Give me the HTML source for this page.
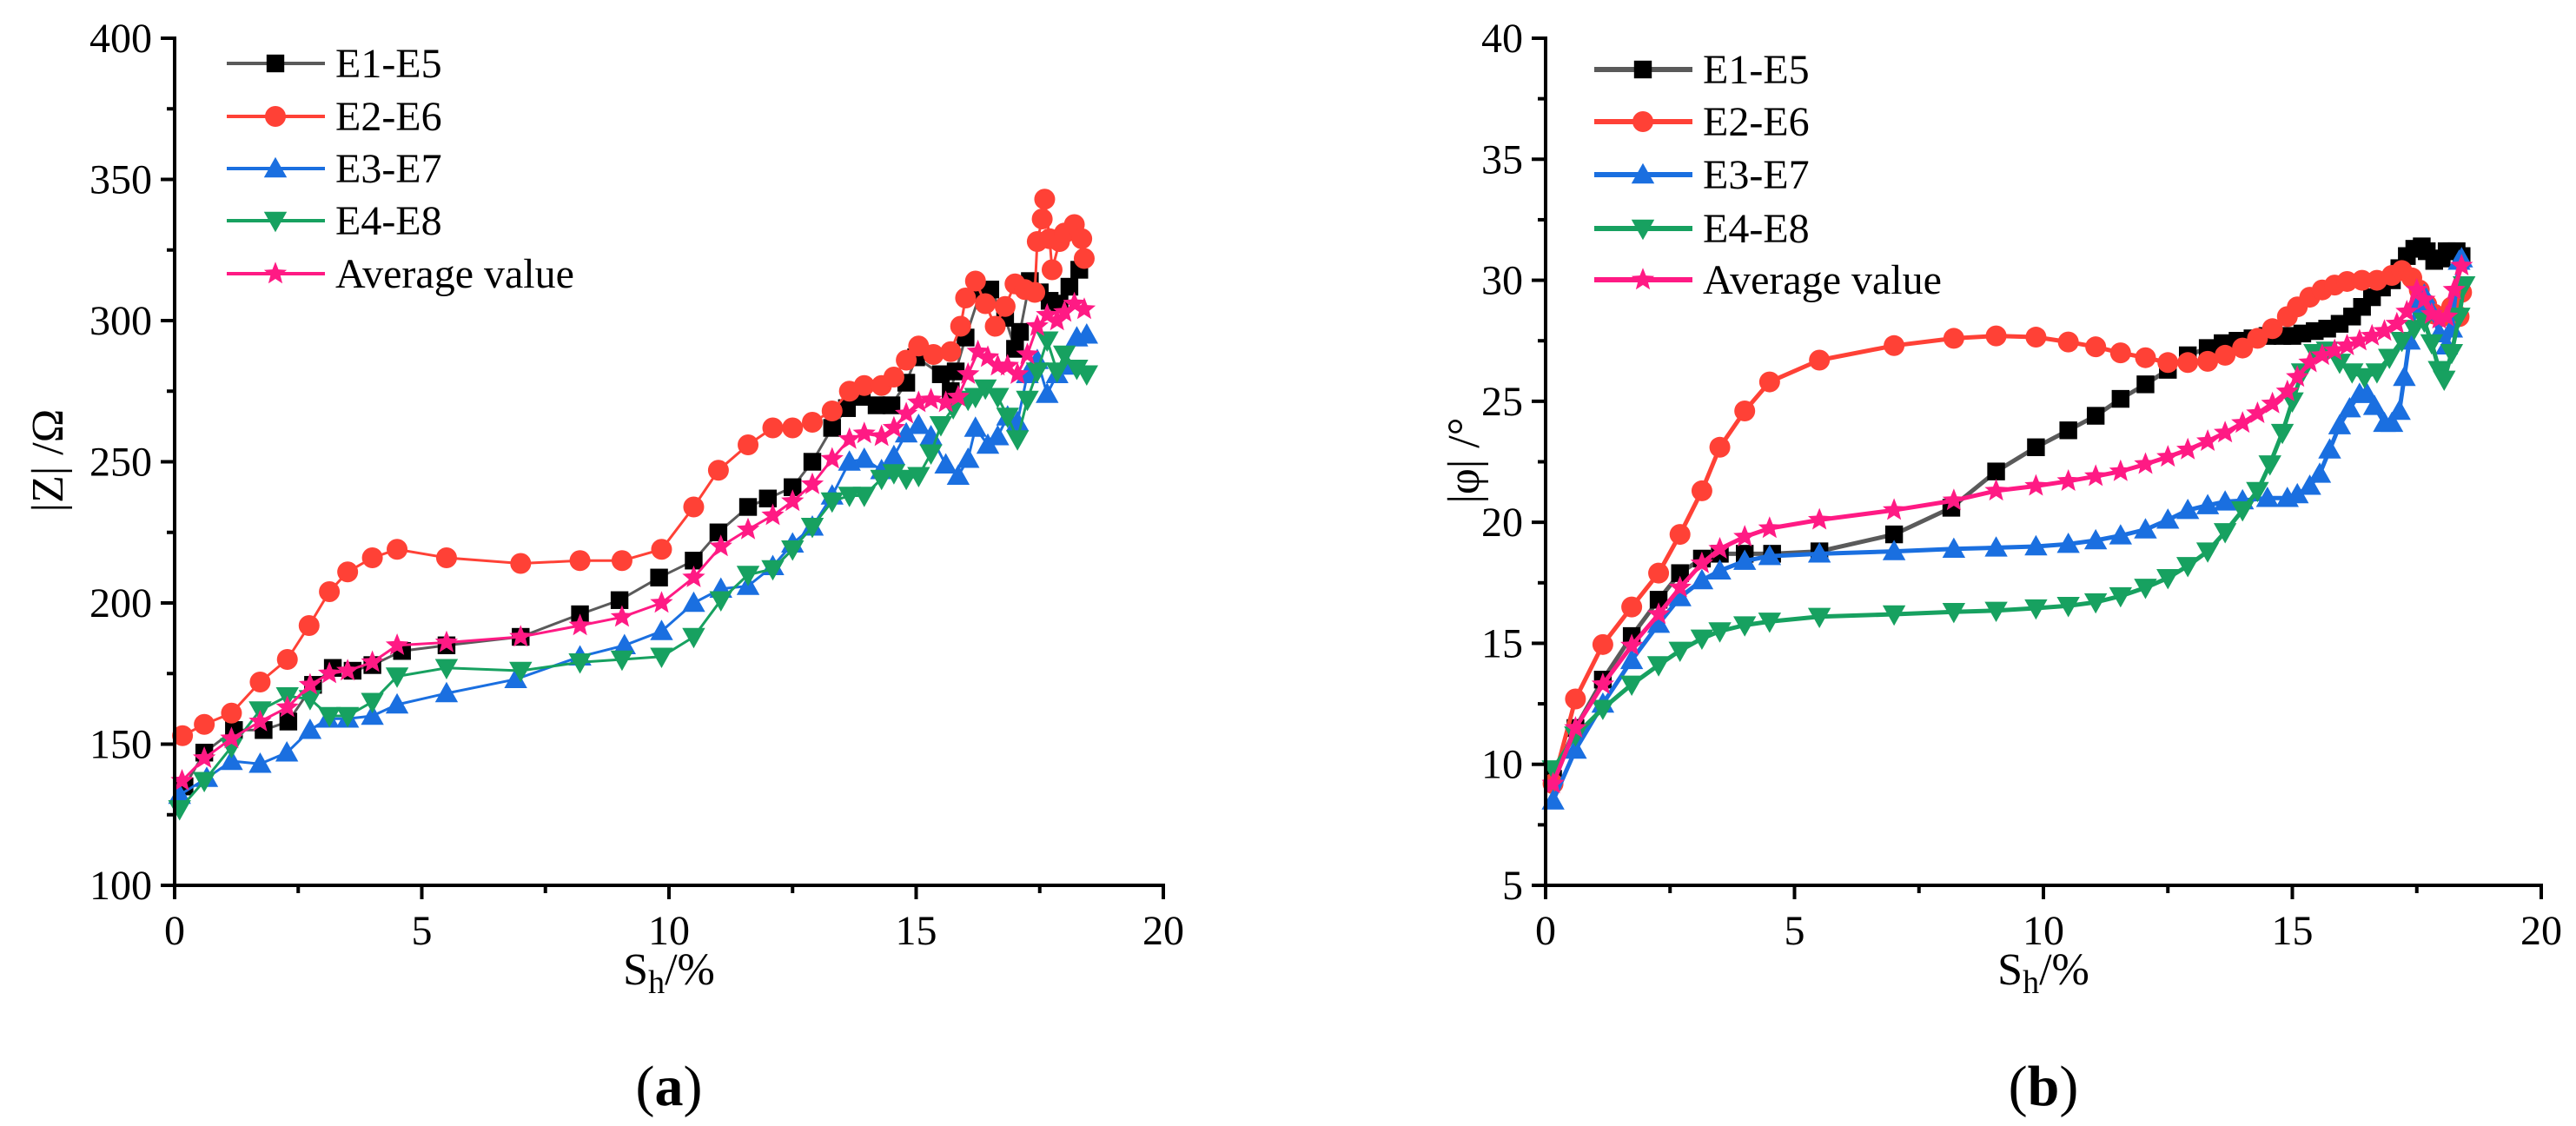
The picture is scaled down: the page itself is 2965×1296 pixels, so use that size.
<!DOCTYPE html>
<html><head><meta charset="utf-8"><style>
html,body{margin:0;padding:0;background:#fff;}
svg{display:block;}
svg text{font-family:"Liberation Serif","DejaVu Serif","Times New Roman",serif;}
</style></head><body>
<svg id="fig" width="2965" height="1296" viewBox="0 0 2965 1296" font-family="Liberation Serif, DejaVu Serif, serif"></svg>
<script>
// ---- Chart (a) data: |Z| vs Sh ----
const aE1x=[0.2,0.6,1.2,1.8,2.3,2.8,3.2,3.6,4.0,4.6,5.5,7.0,8.2,9.0,9.8,10.5,11.0,11.6,12.0,12.5,12.9,13.3,13.6,13.9,14.2,14.5,14.8,15.0,15.5,15.7,15.8,16.0,16.3,16.5,16.8,17.0,17.1,17.3,17.5,17.7,17.9,18.1,18.3];
const aE1y=[135,147,155,155,158,171,177,176,178,183,185,188,196,201,209,215,225,234,237,241,250,262,269,273,270,270,278,287,281,275,282,294,310,311,301,290,296,314,310,307,306,312,318];
const aE2x=[0.16,0.6,1.15,1.73,2.28,2.72,3.13,3.5,4.0,4.5,5.5,7.0,8.2,9.05,9.85,10.5,11.0,11.6,12.1,12.5,12.9,13.3,13.65,13.95,14.3,14.55,14.8,15.05,15.35,15.7,15.9,16.0,16.2,16.4,16.6,16.8,17.0,17.2,17.4,17.45,17.55,17.6,17.7,17.75,17.9,18.0,18.2,18.35,18.4];
const aE2y=[153,157,161,172,180,192,204,211,216,219,216,214,215,215,219,234,247,256,262,262,264,268,275,277,277,280,286,291,288,289,298,308,314,306,298,305,313,311,310,328,336,343,329,318,328,331,334,329,322];
const aE3x=[0.1,0.65,1.15,1.73,2.27,2.74,3.1,3.5,4.0,4.5,5.5,6.9,8.2,9.1,9.85,10.5,11.05,11.6,12.1,12.5,12.9,13.3,13.65,13.95,14.3,14.55,14.8,15.05,15.3,15.6,15.85,16.05,16.2,16.45,16.65,16.85,17.05,17.25,17.45,17.65,17.85,18.0,18.25,18.45];
const aE3y=[132,138,144,143,147,155,159,159,160,164,168,173,181,185,190,200,205,206,213,221,227,238,250,251,247,252,260,263,259,249,245,251,262,256,259,266,264,281,286,274,281,284,294,295];
const aE4x=[0.1,0.6,1.15,1.73,2.28,2.74,3.13,3.5,4.0,4.5,5.5,7.0,8.2,9.05,9.85,10.5,11.05,11.6,12.1,12.5,12.9,13.3,13.65,13.95,14.3,14.55,14.8,15.05,15.3,15.5,15.75,16.05,16.2,16.4,16.65,16.85,17.05,17.25,17.45,17.65,17.85,18.0,18.25,18.45];
const aE4y=[127,137,149,162,167,166,160,160,165,174,177,176,179,180,181,188,201,210,212,219,227,236,238,238,244,246,244,245,253,263,269,272,273,276,273,266,258,272,282,293,282,288,283,281];
const aAvx=[0.15,0.6,1.15,1.73,2.28,2.74,3.13,3.5,4.0,4.5,5.5,7.0,8.2,9.05,9.85,10.5,11.05,11.6,12.1,12.5,12.9,13.3,13.65,13.95,14.3,14.55,14.8,15.05,15.3,15.6,15.85,16.05,16.25,16.45,16.65,16.85,17.05,17.25,17.45,17.65,17.85,18.0,18.2,18.4];
const aAvy=[137,145,152,158,163,171,175,176,179,185,186,188,192,195,200,209,220,226,231,236,242,251,258,260,259,262,267,271,272,271,273,281,289,287,284,284,281,288,298,302,300,303,306,304];
// ---- Chart (b) data: |phi| vs Sh ----
const bE1x=[0.15,0.6,1.15,1.73,2.27,2.7,3.14,3.5,4.0,4.55,5.5,7.0,8.15,9.05,9.85,10.5,11.05,11.55,12.05,12.5,12.9,13.3,13.6,13.9,14.2,14.5,14.8,15.0,15.2,15.45,15.7,15.95,16.2,16.4,16.6,16.8,17.0,17.15,17.3,17.45,17.6,17.7,17.85,18.0,18.1,18.2,18.3,18.4];
const bE1y=[9.4,11.5,13.5,15.3,16.8,17.9,18.5,18.7,18.7,18.7,18.8,19.5,20.6,22.1,23.1,23.8,24.4,25.1,25.7,26.3,26.9,27.2,27.4,27.5,27.6,27.7,27.7,27.7,27.8,27.9,28.0,28.2,28.5,28.9,29.3,29.7,30.0,30.5,31.0,31.3,31.4,31.2,30.8,30.9,31.2,31.2,31.2,31.0];
const bE2x=[0.15,0.6,1.15,1.73,2.27,2.7,3.14,3.5,4.0,4.5,5.5,7.0,8.2,9.05,9.85,10.5,11.05,11.55,12.05,12.5,12.9,13.3,13.65,14.0,14.3,14.6,14.9,15.1,15.35,15.6,15.85,16.1,16.4,16.7,17.0,17.2,17.4,17.55,17.7,17.85,18.0,18.2,18.35,18.4];
const bE2y=[9.2,12.7,14.95,16.5,17.9,19.5,21.3,23.1,24.6,25.8,26.7,27.3,27.6,27.7,27.65,27.45,27.25,27.0,26.8,26.6,26.6,26.65,26.9,27.2,27.6,28.0,28.5,28.9,29.3,29.6,29.8,29.95,30.0,30.0,30.2,30.4,30.1,29.6,29.0,28.6,28.5,28.9,28.5,29.5];
const bE3x=[0.15,0.6,1.15,1.73,2.27,2.7,3.14,3.5,4.0,4.5,5.5,7.0,8.2,9.05,9.85,10.5,11.05,11.55,12.05,12.5,12.9,13.3,13.65,14.0,14.5,14.9,15.1,15.35,15.55,15.75,15.95,16.15,16.35,16.5,16.65,16.85,17.0,17.15,17.25,17.35,17.5,17.65,17.8,17.95,18.1,18.2,18.35,18.4];
const bE3y=[8.5,10.6,12.5,14.3,15.8,16.9,17.6,18.0,18.4,18.6,18.7,18.8,18.9,18.95,19.0,19.1,19.25,19.45,19.7,20.1,20.5,20.7,20.85,20.9,21.0,21.0,21.15,21.5,22.0,23.0,24.0,24.7,25.3,25.3,24.8,24.1,24.1,24.6,26.0,27.5,29.0,29.4,28.7,27.8,27.3,28.0,30.8,30.9];
const bE4x=[0.15,0.6,1.15,1.73,2.27,2.7,3.14,3.5,4.0,4.5,5.5,7.0,8.2,9.05,9.85,10.5,11.05,11.55,12.05,12.5,12.9,13.3,13.65,14.0,14.3,14.55,14.8,15.0,15.2,15.45,15.7,15.95,16.2,16.45,16.7,16.95,17.2,17.45,17.65,17.8,17.95,18.05,18.2,18.35,18.45];
const bE4y=[9.8,11.2,12.3,13.3,14.1,14.7,15.2,15.5,15.75,15.9,16.1,16.2,16.3,16.35,16.45,16.55,16.7,16.95,17.3,17.7,18.2,18.8,19.6,20.5,21.3,22.4,23.7,25.0,26.2,27.0,27.1,26.6,26.2,26.0,26.2,26.8,27.5,28.0,28.3,27.4,26.3,25.9,27.0,28.5,29.8];
const bAvx=[0.15,0.6,1.15,1.73,2.27,2.7,3.14,3.5,4.0,4.5,5.5,7.0,8.2,9.05,9.85,10.5,11.05,11.55,12.05,12.5,12.9,13.3,13.65,14.0,14.3,14.6,14.9,15.1,15.35,15.6,15.85,16.1,16.35,16.6,16.85,17.1,17.3,17.5,17.65,17.8,17.95,18.1,18.25,18.4];
const bAvy=[9.2,11.5,13.3,14.9,16.2,17.3,18.3,18.9,19.4,19.75,20.1,20.5,20.9,21.3,21.5,21.7,21.9,22.1,22.4,22.7,23.0,23.35,23.7,24.1,24.5,24.9,25.4,26.0,26.6,26.9,27.1,27.3,27.5,27.7,27.9,28.2,28.7,29.6,29.2,28.6,28.4,28.5,29.6,30.6];
const xTicks=[0,5,10,15,20];
const aYTicks=[100,150,200,250,300,350,400];
const bYTicks=[5,10,15,20,25,30,35,40];
const seriesNames=["E1-E5","E2-E6","E3-E7","E4-E8","Average value"];

const NS="http://www.w3.org/2000/svg";
const FONT='"Liberation Serif", "DejaVu Serif", serif';
const svg=document.getElementById('fig');
function mk(tag,attrs,parent,name,inter){
  const e=document.createElementNS(NS,tag);
  for(const k in attrs)e.setAttribute(k,attrs[k]);
  if(tag==='text')e.style.fontFamily=FONT;
  
  
  (parent||svg).appendChild(e);return e;
}
const styles=[
  {line:"#5a5a5a",mark:"#000",shape:"square"},
  {line:"#ff4136",mark:"#ff4136",shape:"circle"},
  {line:"#1a6fe0",mark:"#1a6fe0",shape:"tri"},
  {line:"#17a160",mark:"#17a160",shape:"itri"},
  {line:"#ff1a84",mark:"#ff1a84",shape:"star"}
];
function marker(g,shape,cx,cy,r,col,name){
  let e;
  if(shape==="square")e=mk('rect',{x:cx-r*0.85,y:cy-r*0.85,width:r*1.7,height:r*1.7,fill:col},g,name);
  else if(shape==="circle")e=mk('circle',{cx:cx,cy:cy,r:r,fill:col},g,name);
  else if(shape==="tri")e=mk('polygon',{points:`${cx},${cy-r*1.1} ${cx-r*1.1},${cy+r*0.85} ${cx+r*1.1},${cy+r*0.85}`,fill:col},g,name);
  else if(shape==="itri")e=mk('polygon',{points:`${cx},${cy+r*1.1} ${cx-r*1.1},${cy-r*0.85} ${cx+r*1.1},${cy-r*0.85}`,fill:col},g,name);
  else{let p=[];for(let i=0;i<10;i++){const a=-Math.PI/2+i*Math.PI/5;const rr=i%2?r*0.5:r*1.15;p.push((cx+rr*Math.cos(a)).toFixed(1)+","+(cy+rr*Math.sin(a)).toFixed(1));}
    e=mk('polygon',{points:p.join(' '),fill:col},g,name);}
  return e;
}
function chart(cfg){
  const g=mk('g',{},svg,cfg.name);
  const X=v=>cfg.x0+(v-0)/20*(cfg.x1-cfg.x0);
  const Y=v=>cfg.yb+(v-cfg.ymin)/(cfg.ymax-cfg.ymin)*(cfg.yt-cfg.yb);
  cfg.series.forEach((s,i)=>{
    const st=styles[i];
    const sg=mk('g',{},g,'series-'+seriesNames[i].toLowerCase().replace(/ /g,'-'));
    const pts=s[0].map((x,j)=>X(x).toFixed(1)+","+Y(s[1][j]).toFixed(1)).join(' ');
    mk('polyline',{points:pts,fill:'none',stroke:st.line,'stroke-width':cfg.lw,'stroke-linejoin':'round'},sg,'series-line');
    s[0].forEach((x,j)=>marker(sg,st.shape,X(x),Y(s[1][j]),cfg.mr,st.mark,'data-point'));
  });
  mk('line',{x1:cfg.x0,y1:cfg.yb+2,x2:cfg.x0,y2:cfg.yt-2,stroke:'#000','stroke-width':4},g,'y-axis-line');
  mk('line',{x1:cfg.x0-2,y1:cfg.yb,x2:cfg.x1+2,y2:cfg.yb,stroke:'#000','stroke-width':4},g,'x-axis-line');
  xTicks.forEach((t,i)=>{
    mk('line',{x1:X(t),y1:cfg.yb,x2:X(t),y2:cfg.yb+16,stroke:'#000','stroke-width':4},g,'x-tick');
    if(i<xTicks.length-1)mk('line',{x1:X(t+2.5),y1:cfg.yb,x2:X(t+2.5),y2:cfg.yb+9,stroke:'#000','stroke-width':4},g,'x-minor-tick');
    const tx=mk('text',{x:X(t),y:cfg.yb+68,'text-anchor':'middle','font-size':48},g,'x-tick-label');tx.textContent=t;
  });
  const yt=cfg.yTicks;
  yt.forEach((t,i)=>{
    mk('line',{x1:cfg.x0,y1:Y(t),x2:cfg.x0-16,y2:Y(t),stroke:'#000','stroke-width':4},g,'y-tick');
    if(i<yt.length-1){const m=(t+yt[i+1])/2;mk('line',{x1:cfg.x0,y1:Y(m),x2:cfg.x0-9,y2:Y(m),stroke:'#000','stroke-width':4},g,'y-minor-tick');}
    const tx=mk('text',{x:cfg.x0-26,y:Y(t)+16,'text-anchor':'end','font-size':48},g,'y-tick-label');tx.textContent=t;
  });
  const yl=mk('text',{x:cfg.ylx,y:530,'text-anchor':'middle','font-size':52,transform:`rotate(-90 ${cfg.ylx} 530)`},g,'y-axis-title');yl.textContent=cfg.ylabel;
  const cx=(cfg.x0+cfg.x1)/2;
  const xl=mk('text',{x:cx,y:1133,'text-anchor':'middle','font-size':52},g,'x-axis-title');
  xl.innerHTML='S<tspan dy="10" font-size="38">h</tspan><tspan dy="-10">/%</tspan>';
  const pl=mk('text',{x:cx,y:1272,'text-anchor':'middle','font-size':66},g,'panel-label');
  pl.innerHTML='(<tspan font-weight="bold">'+cfg.panel+'</tspan>)';
  const lg=mk('g',{},g,'legend');
  seriesNames.forEach((n,i)=>{
    const st=styles[i];const y=cfg.legY[i];
    const eg=mk('g',{},lg,'legend-entry',true);
    mk('line',{x1:cfg.legX,y1:y,x2:cfg.legX+113,y2:y,stroke:st.line,'stroke-width':cfg.lw+1},eg,'legend-line');
    marker(eg,st.shape,cfg.legX+56,y,cfg.mr,st.mark,'legend-marker');
    const t=mk('text',{x:cfg.legX+125,y:y+16,'font-size':48},eg,'legend-label');t.textContent=n;
  });
}
chart({name:'chart-a-impedance',x0:201,x1:1339,yb:1019,yt:44,ymin:100,ymax:400,yTicks:aYTicks,lw:3,mr:12,
  series:[[aE1x,aE1y],[aE2x,aE2y],[aE3x,aE3y],[aE4x,aE4y],[aAvx,aAvy]],
  ylabel:'|Z| /Ω',ylx:72,panel:'a',legX:261,legY:[73,134,194,254,315]});
chart({name:'chart-b-phase',x0:1779,x1:2925,yb:1019,yt:44,ymin:5,ymax:40,yTicks:bYTicks,lw:5,mr:12,
  series:[[bE1x,bE1y],[bE2x,bE2y],[bE3x,bE3y],[bE4x,bE4y],[bAvx,bAvy]],
  ylabel:'|φ| /°',ylx:1702,panel:'b',legX:1835,legY:[80,140,201,263,322]});
</script>
</body></html>
